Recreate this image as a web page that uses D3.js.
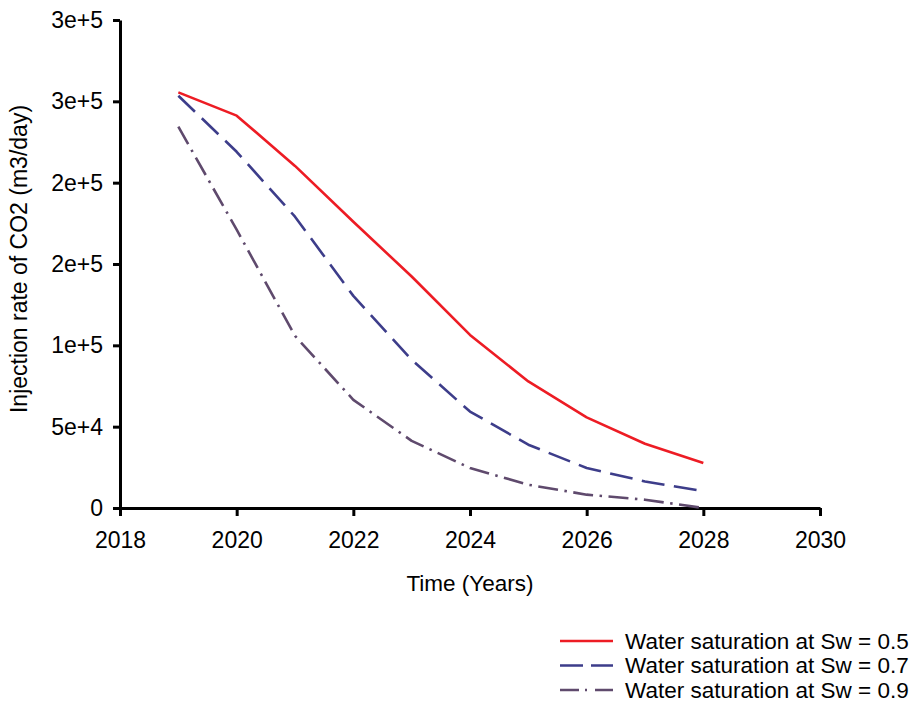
<!DOCTYPE html>
<html>
<head>
<meta charset="utf-8">
<script src="https://cdn.jsdelivr.net/npm/d3@7"></script>
<style>
  html, body { margin: 0; padding: 0; background: #fff; }
  svg { display: block; font-family: "Liberation Sans", Arial, sans-serif; }
</style>
</head>
<body>
<svg id="chart" width="914" height="710"></svg>
<script>
// Injection rate of CO2 over time for three water saturation cases
const years = [2019, 2020, 2021, 2022, 2023, 2024, 2025, 2026, 2027, 2028];
const rateSw05 = [255500, 241200, 210300, 176000, 142300, 106400, 77800, 55700, 39500, 27600];
const rateSw07 = [253400, 219000, 179100, 130400, 91100, 59300, 38900, 24600, 16300, 10400];
const rateSw09 = [234400, 171100, 105800, 66500, 41300, 24600, 14300, 8200, 5100, 0];

const seriesNames = [
  "Water saturation at Sw = 0.5",
  "Water saturation at Sw = 0.7",
  "Water saturation at Sw = 0.9"
];

const xTickValues = [2018, 2020, 2022, 2024, 2026, 2028, 2030];
const yTickValues = [0, 50000, 100000, 150000, 200000, 250000, 300000];
const yTickLabels = ["0", "5e+4", "1e+5", "2e+5", "2e+5", "3e+5", "3e+5"];

const series = [
  { name: seriesNames[0], values: rateSw05, color: "#ed1c24", dash: null, legendDash: null },
  { name: seriesNames[1], values: rateSw07, color: "#3d3d8a", dash: "23,9.5", legendDash: "23,8" },
  { name: seriesNames[2], values: rateSw09, color: "#5f4a6d", dash: "20,6.5,2.5,6.5", legendDash: "19,6,2,8" }
];

const svg = d3.select("#chart");

const x = d3.scaleLinear().domain([2018, 2030]).range([120, 820]);
const y = d3.scaleLinear().domain([0, 300000]).range([508, 20]);

// Axes
const xAxis = svg.append("g")
  .attr("transform", `translate(0,${y(0)})`)
  .call(d3.axisBottom(x).tickValues(xTickValues).tickFormat(d3.format("d"))
    .tickSizeInner(8).tickSizeOuter(0).tickPadding(8));

const yAxis = svg.append("g")
  .attr("transform", `translate(${x(2018)},0)`)
  .call(d3.axisLeft(y).tickValues(yTickValues)
    .tickFormat((d, i) => yTickLabels[i])
    .tickSizeInner(7).tickSizeOuter(0).tickPadding(10));

[xAxis, yAxis].forEach(g => {
  g.select(".domain").attr("stroke", "#000").attr("stroke-width", 3);
  g.selectAll(".tick line").attr("stroke", "#000").attr("stroke-width", 3);
  g.selectAll(".tick text")
    .attr("fill", "#000")
    .style("font-size", "23px")
    .style("font-family", "'Liberation Sans', Arial, sans-serif");
});
xAxis.selectAll(".tick text").attr("dy", "1.05em");

// Axis titles
svg.append("text")
  .attr("x", 470).attr("y", 591)
  .attr("text-anchor", "middle")
  .style("font-size", "22.5px")
  .text("Time (Years)");

svg.append("text")
  .attr("transform", "translate(27,259) rotate(-90)")
  .attr("text-anchor", "middle")
  .style("font-size", "23px")
  .text("Injection rate of CO2 (m3/day)");

// Series lines
const line = d3.line()
  .x((d, i) => x(years[i]))
  .y(d => y(d));

svg.append("g").selectAll("path")
  .data(series)
  .join("path")
  .attr("d", d => line(d.values))
  .attr("fill", "none")
  .attr("stroke", d => d.color)
  .attr("stroke-width", 2.6)
  .attr("stroke-linejoin", "round")
  .attr("stroke-dasharray", d => d.dash);

// Legend
const legend = svg.append("g");
const rows = legend.selectAll("g")
  .data(series)
  .join("g")
  .attr("transform", (d, i) => `translate(560,${641 + i * 24.5})`);

rows.append("line")
  .attr("x1", 0).attr("x2", 53)
  .attr("stroke", d => d.color)
  .attr("stroke-width", 2.6)
  .attr("stroke-dasharray", d => d.legendDash);

rows.append("text")
  .attr("x", 65).attr("y", 0)
  .attr("dy", "0.35em")
  .style("font-size", "22.5px")
  .text(d => d.name);
</script>
</body>
</html>
